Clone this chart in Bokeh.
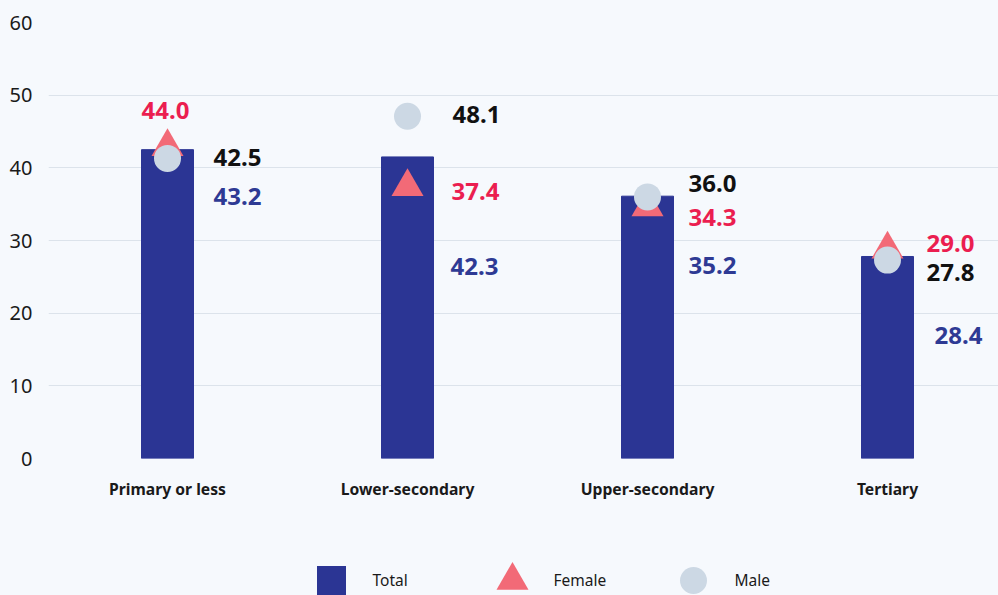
from bokeh.plotting import figure
from bokeh.models import ColumnDataSource, Range1d, FixedTicker
from bokeh.layouts import column
from bokeh.core.properties import value
from bokeh.embed import file_html
from bokeh.resources import INLINE

# ---------------- data ----------------
categories = ["Primary or less", "Lower-secondary", "Upper-secondary", "Tertiary"]
total = [42.5, 41.5, 36.1, 27.8]
female = [42.9, 37.4, 34.6, 28.8]
male = [41.3, 47.1, 36.0, 27.3]

total_labels = ["43.2", "42.3", "35.2", "28.4"]
female_labels = ["44.0", "37.4", "34.3", "29.0"]
male_labels = ["42.5", "48.1", "36.0", "27.8"]

y_ticks = [0, 10, 20, 30, 40, 50, 60]
legend_names = ["Total", "Female", "Male"]

# ---------------- label layout (positions only) ----------------
total_label_y = [36.05, 26.49, 26.52, 16.93]
female_label_y = [47.89, 36.81, 33.16, 29.58]
male_label_y = [41.49, 47.37, 37.91, 25.64]
total_label_dx = [46, 43, 41, 47]
female_label_dx = [-2, 44, 41, 39]
male_label_dx = [46, 45, 41, 39]
female_label_align = ["center", "left", "left", "left"]

# ---------------- styles ----------------
BG = "#F6F9FD"
BAR = "#2B3594"
TRI = "#F26A77"
CIR = "#CCD8E4"
RED_TXT = "#EB1E50"
BLUE_TXT = "#2E3A94"
BLACK_TXT = "#111111"
GRID = "#DCE3EB"
FONT = "Noto Sans"

xs = list(range(len(categories)))
src = ColumnDataSource(dict(
    x=xs, total=total, female=female, male=male,
    tl=total_labels, fl=female_labels, ml=male_labels,
    tly=total_label_y, fly=female_label_y, mly=male_label_y,
    tdx=total_label_dx, fdx=female_label_dx, mdx=male_label_dx,
    fal=female_label_align,
))

W = 998
LEFT = 48
FRAME_W = W - LEFT
p = figure(width=W, height=530, output_backend="svg", toolbar_location=None,
           x_range=Range1d(-119 / 240, -119 / 240 + FRAME_W / 240), y_range=Range1d(0, 60),
           min_border_left=LEFT, min_border_right=0, min_border_top=22, min_border_bottom=72,
           background_fill_color=BG, border_fill_color=BG, outline_line_color=None)

p.vbar(x="x", top="total", width=52 / 240, bottom=0, source=src, color=BAR)
p.scatter(x="x", y="female", source=src, marker="triangle", size=32,
          fill_color=TRI, line_color=None)
p.scatter(x="x", y="male", source=src, marker="circle", size=27,
          fill_color=CIR, line_color=None)

common = dict(source=src, text_font=value(FONT), text_font_size="24px",
              text_font_style="bold", text_baseline="middle")
p.text(x="x", y="tly", text="tl", x_offset="tdx", text_align="left",
       text_color=BLUE_TXT, **common)
p.text(x="x", y="fly", text="fl", x_offset="fdx", text_align="fal",
       text_color=RED_TXT, **common)
p.text(x="x", y="mly", text="ml", x_offset="mdx", text_align="left",
       text_color=BLACK_TXT, **common)

# axes
p.xaxis.ticker = FixedTicker(ticks=xs)
p.xaxis.major_label_overrides = {i: c for i, c in enumerate(categories)}
p.xaxis.major_label_text_font = FONT
p.xaxis.major_label_text_font_size = "15.7px"
p.xaxis.major_label_text_font_style = "bold"
p.xaxis.major_label_text_color = "#1a1a1a"
p.xaxis.major_label_standoff = 13
p.xaxis.axis_line_color = None
p.xaxis.major_tick_line_color = None
p.xaxis.minor_tick_line_color = None

p.yaxis.ticker = FixedTicker(ticks=y_ticks)
p.yaxis.major_label_text_font = FONT
p.yaxis.major_label_text_font_size = "20px"
p.yaxis.major_label_text_color = "#1a1a1a"
p.yaxis.major_label_standoff = 10
p.yaxis.axis_line_color = None
p.yaxis.major_tick_line_color = None
p.yaxis.minor_tick_line_color = None

p.xgrid.grid_line_color = None
p.ygrid.grid_line_color = GRID
p.ygrid.grid_line_width = 1.2

# ---------------- legend strip (page-pixel coordinates) ----------------
LH = 65
lg = figure(width=W, height=LH, output_backend="svg", toolbar_location=None,
            x_range=Range1d(LEFT, W), y_range=Range1d(0, LH),
            min_border_left=LEFT, min_border_right=0,
            min_border_top=0, min_border_bottom=0,
            background_fill_color=BG, border_fill_color=BG, outline_line_color=None)
lg.axis.visible = False
lg.grid.visible = False

start, step, cy = 331, 181, LH - 50
markers = ["square", "triangle", "circle"]
sizes = [29, 32, 27]
colors = [BAR, TRI, CIR]
for k, name in enumerate(legend_names):
    mx = start + k * step
    lg.scatter(x=[mx], y=[cy], marker=markers[k], size=sizes[k],
               fill_color=colors[k], line_color=None)
    lg.text(x=[mx + 41], y=[cy + 1], text=[name], text_font=value(FONT),
            text_font_size="15.5px", text_color="#1a1a1a", text_baseline="middle",
            text_align="left")

layout = column(p, lg, spacing=0, background=BG)

open("out.html", "w").write(file_html(layout, INLINE))
